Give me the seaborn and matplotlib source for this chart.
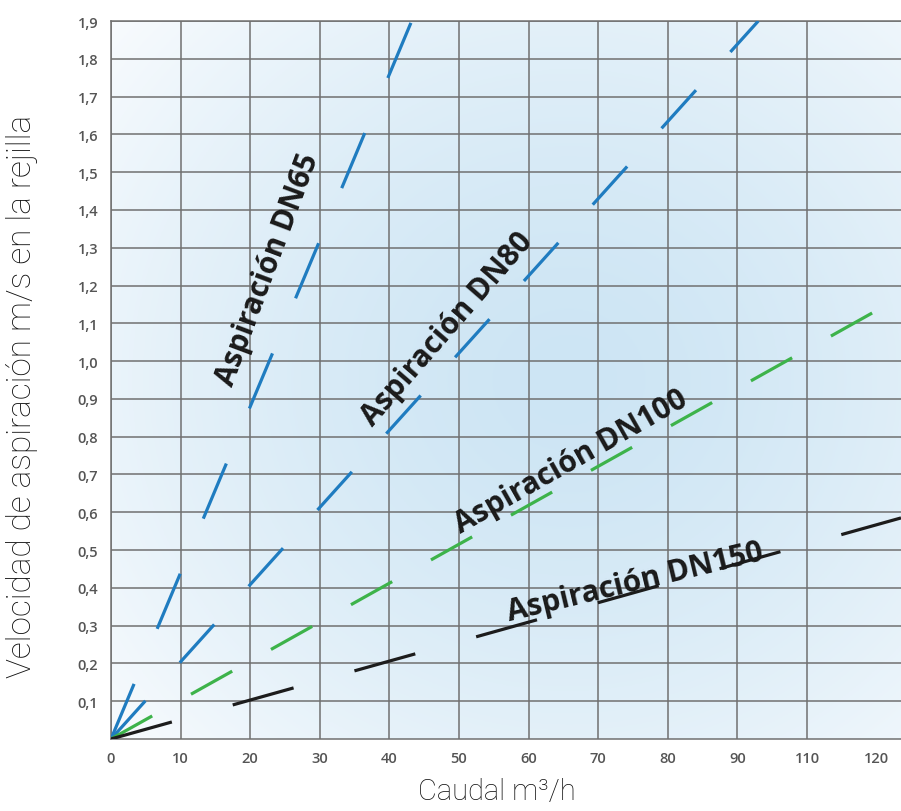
import numpy as np
import pandas as pd
import seaborn as sns
import matplotlib.pyplot as plt

# values (caudal m3/h -> velocidad m/s)
caudal_dn65 = [0, 43.2]
vel_dn65 = [0, 1.90]
caudal_dn80 = [0, 93.0]
vel_dn80 = [0, 1.90]
caudal_dn100 = [0, 113.5]
vel_dn100 = [0, 1.17]
caudal_dn150 = [0, 113.5]
vel_dn150 = [0, 0.585]

x_ticks = [0, 10, 20, 30, 40, 50, 60, 70, 80, 90, 100]
x_ticklabels = ['0', '10', '20', '30', '40', '50', '60', '70', '80', '90', '110']
y_ticks = [0.1, 0.2, 0.3, 0.4, 0.5, 0.6, 0.7, 0.8, 0.9, 1.0,
           1.1, 1.2, 1.3, 1.4, 1.5, 1.6, 1.7, 1.8, 1.9]

sns.set_theme(style="white")
plt.rcParams['lines.scale_dashes'] = False

fig = plt.figure(figsize=(9.01, 8.12), dpi=100)
ax = fig.add_axes([111 / 901, 72 / 812, 790 / 901, 718 / 812])
ax.set_xlim(0, 113.5)
ax.set_ylim(0, 1.9)

# soft blue background gradient
gx, gy = np.meshgrid(np.linspace(0, 1, 300), np.linspace(0, 1, 300))
r = np.sqrt(((gx - 0.58) / 0.78) ** 2 + ((gy - 0.50) / 0.80) ** 2)
t = np.clip(r, 0, 1) ** 1.5
c_in = np.array([205, 229, 244]) / 255
c_out = np.array([250, 252, 254]) / 255
img = c_in[None, None, :] * (1 - t[..., None]) + c_out[None, None, :] * t[..., None]
ax.imshow(img, extent=[0, 113.5, 0, 1.9], origin='lower', aspect='auto', zorder=0)

series = [
    (caudal_dn65, vel_dn65, '#1f7cc0', (43, 43)),
    (caudal_dn80, vel_dn80, '#1f7cc0', (37, 37)),
    (caudal_dn100, vel_dn100, '#3db34a', (34, 32)),
    (caudal_dn150, vel_dn150, '#1c1c1c', (45.5, 45.5)),
]
for xs, ys, col, dash in series:
    df = pd.DataFrame({'caudal': xs, 'vel': ys})
    sns.lineplot(data=df, x='caudal', y='vel', ax=ax, color=col,
                 linewidth=2.3, linestyle=(0, dash), zorder=3)

ax.set_xticks(x_ticks)
ax.set_xticklabels(x_ticklabels)
ax.set_xticks([110], minor=True)
ax.set_xticklabels(['120'], minor=True)
ax.set_yticks(y_ticks)
ax.set_yticklabels([f'{v:.1f}'.replace('.', ',') for v in y_ticks])
ax.grid(True, which='major', color='#707070', linewidth=1.1, zorder=1)
ax.set_axisbelow(False)
for ln in ax.get_xgridlines() + ax.get_ygridlines():
    ln.set_zorder(1)
ax.tick_params(axis='both', which='both', length=0, labelsize=10.5,
               labelcolor='#555555', pad=9)
for lab in ax.get_xticklabels(which='both') + ax.get_yticklabels():
    lab.set_fontweight('semibold')
    lab.set_family('Open Sans')
for side in ['left', 'bottom', 'top']:
    ax.spines[side].set_color('#707070')
    ax.spines[side].set_linewidth(1.1)
ax.spines['right'].set_visible(False)

ax.set_xlabel('Caudal m³/h', fontsize=21, family='Roboto', fontweight='light',
              color='#111111')
ax.set_ylabel('Velocidad de aspiración m/s en la rejilla', fontsize=24,
              family='Roboto', fontweight='light', color='#111111')
ax.xaxis.set_label_coords(0.489, -0.053)
ax.yaxis.set_label_coords(-0.092, 0.478)

labels = [
    ('Aspiración DN65', 22.5, 1.245, 69.5),
    ('Aspiración DN80', 48.3, 1.085, 49),
    ('Aspiración DN100', 66.1, 0.735, 29.5),
    ('Aspiración DN150', 75.3, 0.415, 13.5),
]
for txt, x, y, rot in labels:
    ax.text(x, y, txt, rotation=rot, ha='center', va='center',
            fontsize=21.5, fontweight='bold', family='Open Sans',
            color='#1a1a1a', zorder=4, rotation_mode='anchor')

fig.savefig('out.png', dpi=100)
